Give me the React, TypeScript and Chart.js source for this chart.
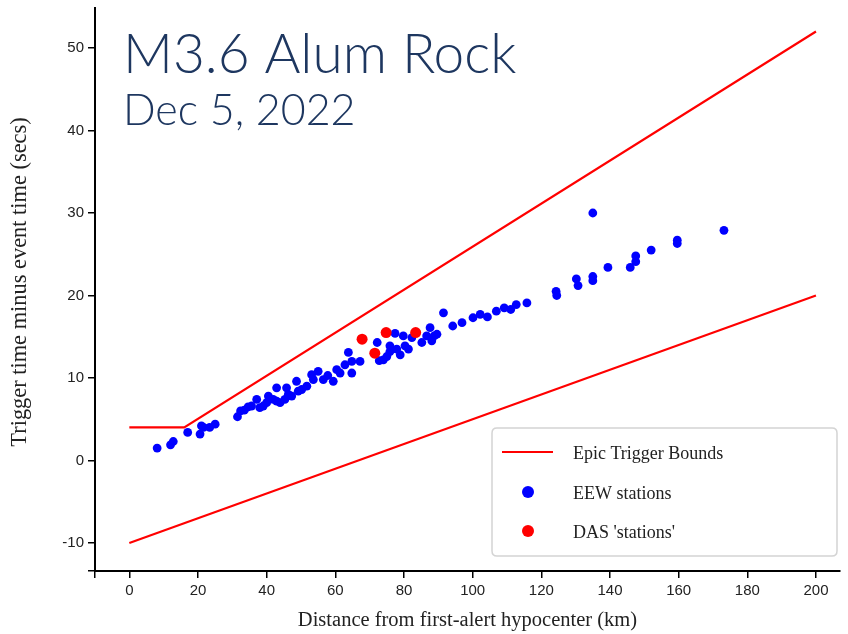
import { useEffect, useRef } from 'react';
import { Chart, registerables } from 'chart.js';

Chart.register(...registerables);

// Epic trigger bound lines (distance km, seconds)
const upperBoundDist = [0, 16, 200];
const upperBoundTime = [4, 4, 52];
const lowerBoundDist = [0, 200];
const lowerBoundTime = [-10, 20];

// EEW station triggers
const eewDist = [
  8.1, 12.0, 12.8, 17.0, 20.6, 21.0, 21.6, 23.4, 25.0,
  31.5, 32.4, 33.5, 34.6, 35.6, 37.1, 38.0, 39.0, 40.0, 40.5, 41.9, 42.9, 42.9, 43.9, 45.3, 45.8, 46.3, 47.3,
  48.7, 49.2, 50.2, 51.7, 53.1, 53.6, 55.0, 56.5, 57.8, 59.4, 60.4, 61.4, 62.8, 63.8, 64.8, 64.8, 67.2,
  72.2, 72.8, 74.0, 75.0, 75.9, 75.9, 77.4, 77.9, 78.9, 79.8, 80.3, 81.3, 82.3, 85.2, 86.6, 87.6, 88.8, 89.6, 88.1,
  91.5, 94.2, 96.9, 100.1, 102.2, 104.3, 106.9, 109.2, 111.1, 112.7, 115.8, 124.3, 124.5,
  130.2, 130.7, 135.0, 135.0, 135.0, 139.4, 145.9, 147.5, 147.5, 152.0, 159.6, 159.6, 173.2,
];
const eewTime = [
  1.5, 1.9, 2.3, 3.4, 3.2, 4.2, 4.0, 4.0, 4.4,
  5.3, 6.0, 6.1, 6.5, 6.6, 7.4, 6.4, 6.6, 7.0, 7.8, 7.4, 8.8, 7.2, 7.0, 7.4, 8.8, 8.0, 7.8,
  9.6, 8.4, 8.6, 9.0, 10.4, 9.8, 10.8, 9.8, 10.3, 9.6, 11.0, 10.6, 11.6, 13.1, 12.0, 10.6, 12.0,
  14.3, 12.1, 12.2, 12.6, 13.9, 13.2, 15.4, 13.5, 12.8, 15.1, 13.9, 13.5, 14.9, 14.3, 15.1, 16.1, 15.1, 15.3, 14.5,
  17.9, 16.3, 16.7, 17.3, 17.7, 17.4, 18.1, 18.5, 18.3, 18.9, 19.1, 20.5, 20.0,
  22.0, 21.2, 30.0, 22.3, 21.8, 23.4, 23.4, 24.8, 24.1, 25.5, 26.7, 26.3, 27.9,
];

// DAS "stations" triggers
const dasDist = [67.8, 71.5, 74.8, 83.4];
const dasTime = [14.7, 13.0, 15.5, 15.5];

const xTickValues = [-10, 0, 20, 40, 60, 80, 100, 120, 140, 160, 180, 200];
const yTickValues = [-13.4, -10, 0, 10, 20, 30, 40, 50];

const titleText = 'M3.6 Alum Rock';
const subtitleText = 'Dec 5, 2022';
const xAxisTitle = 'Distance from first-alert hypocenter (km)';
const yAxisTitle = 'Trigger time minus event time (secs)';
const legendLabels = ['Epic Trigger Bounds', 'EEW stations', "DAS 'stations'"];

const RED = '#ff0000';
const BLUE = '#0000ff';
const NAVY = '#1e3760';

const pts = (xs: number[], ys: number[]) => xs.map((x, i) => ({ x, y: ys[i] }));

const overlayPlugin = {
  id: 'overlay',
  afterDraw(chart: any) {
    const ctx = chart.ctx as CanvasRenderingContext2D;
    ctx.save();
    // Heading
    ctx.fillStyle = NAVY;
    ctx.textBaseline = 'alphabetic';
    ctx.textAlign = 'left';
    ctx.font = '300 55px Lato';
    ctx.fillText(titleText, 123, 73);
    ctx.font = '300 43px Lato';
    ctx.fillText(subtitleText, 123, 125);

    // Vertical axis title
    ctx.save();
    ctx.translate(20, 282);
    ctx.rotate(-Math.PI / 2);
    ctx.fillStyle = '#222';
    ctx.font = '22.4px "Liberation Serif"';
    ctx.textAlign = 'center';
    ctx.textBaseline = 'middle';
    ctx.fillText(yAxisTitle, 0, 0);
    ctx.restore();

    // Legend box
    const bx = 492, by = 428, bw = 345, bh = 128, r = 5;
    ctx.beginPath();
    ctx.moveTo(bx + r, by);
    ctx.lineTo(bx + bw - r, by);
    ctx.quadraticCurveTo(bx + bw, by, bx + bw, by + r);
    ctx.lineTo(bx + bw, by + bh - r);
    ctx.quadraticCurveTo(bx + bw, by + bh, bx + bw - r, by + bh);
    ctx.lineTo(bx + r, by + bh);
    ctx.quadraticCurveTo(bx, by + bh, bx, by + bh - r);
    ctx.lineTo(bx, by + r);
    ctx.quadraticCurveTo(bx, by, bx + r, by);
    ctx.closePath();
    ctx.fillStyle = '#ffffff';
    ctx.fill();
    ctx.strokeStyle = '#d4d4d4';
    ctx.lineWidth = 1.5;
    ctx.stroke();

    ctx.strokeStyle = RED;
    ctx.lineWidth = 2;
    ctx.beginPath();
    ctx.moveTo(502, 452);
    ctx.lineTo(553, 452);
    ctx.stroke();

    ctx.fillStyle = BLUE;
    ctx.beginPath();
    ctx.arc(528, 492, 6, 0, Math.PI * 2);
    ctx.fill();
    ctx.fillStyle = RED;
    ctx.beginPath();
    ctx.arc(528, 531, 6, 0, Math.PI * 2);
    ctx.fill();

    ctx.fillStyle = '#222';
    ctx.font = '18px "Liberation Serif"';
    ctx.textBaseline = 'middle';
    ctx.textAlign = 'left';
    ctx.fillText(legendLabels[0], 573, 454);
    ctx.fillText(legendLabels[1], 573, 494);
    ctx.fillText(legendLabels[2], 573, 533);
    ctx.restore();
  },
};

export default function App() {
  const canvasRef = useRef<HTMLCanvasElement>(null);

  useEffect(() => {
    if (!canvasRef.current) return;
    const chart = new Chart(canvasRef.current, {
      type: 'scatter',
      data: {
        datasets: [
          {
            label: legendLabels[2],
            data: pts(dasDist, dasTime),
            backgroundColor: RED,
            borderColor: RED,
            pointRadius: 5.5,
            pointBorderWidth: 0,
          },
          {
            label: legendLabels[1],
            data: pts(eewDist, eewTime),
            backgroundColor: BLUE,
            borderColor: BLUE,
            pointRadius: 4.4,
            pointBorderWidth: 0,
          },
          {
            label: legendLabels[0],
            data: pts(upperBoundDist, upperBoundTime),
            showLine: true,
            borderColor: RED,
            borderWidth: 2.2,
            pointRadius: 0,
            fill: false,
          },
          {
            label: legendLabels[0],
            data: pts(lowerBoundDist, lowerBoundTime),
            showLine: true,
            borderColor: RED,
            borderWidth: 2.2,
            pointRadius: 0,
            fill: false,
          },
        ],
      },
      options: {
        animation: false,
        responsive: false,
        maintainAspectRatio: false,
        layout: { padding: { top: 8, right: 8, left: 0, bottom: 0 } },
        plugins: { legend: { display: false }, tooltip: { enabled: false } },
        scales: {
          x: {
            type: 'linear',
            min: -10,
            max: 207,
            afterBuildTicks: (s: any) => {
              s.ticks = xTickValues.map((value) => ({ value }));
            },
            afterFit: (s: any) => {
              s.height = 63;
              s.paddingLeft = 0;
              s.paddingRight = 0;
            },
            ticks: {
              autoSkip: false,
              maxRotation: 0,
              padding: 4,
              color: '#222',
              font: { family: '"Liberation Sans", Arial', size: 15 },
              callback: (v: any) => (v === -10 ? '' : String(v)),
            },
            grid: { drawOnChartArea: false, drawTicks: true, tickLength: 7, color: '#000', lineWidth: 1.5 },
            border: { display: true, color: '#000', width: 2 },
            title: {
              display: true,
              text: xAxisTitle,
              color: '#222',
              font: { family: '"Liberation Serif"', size: 20.5 },
              padding: { top: 0, bottom: 1 },
            },
          },
          y: {
            type: 'linear',
            min: -13.4,
            max: 54.85,
            afterBuildTicks: (s: any) => {
              s.ticks = yTickValues.map((value) => ({ value }));
            },
            afterFit: (s: any) => {
              s.width = 95;
              s.paddingTop = 0;
              s.paddingBottom = 0;
            },
            ticks: {
              autoSkip: false,
              padding: 4,
              color: '#222',
              font: { family: '"Liberation Sans", Arial', size: 15 },
              callback: (v: any) => (v === -13.4 ? '' : String(v)),
            },
            grid: { drawOnChartArea: false, drawTicks: true, tickLength: 7, color: '#000', lineWidth: 1.5 },
            border: { display: true, color: '#000', width: 2 },
            title: { display: false },
          },
        },
      },
      plugins: [overlayPlugin],
    } as any);
    document.fonts?.load('300 55px Lato').then(() => chart.update()).catch(() => {});
    return () => chart.destroy();
  }, []);

  return (
    <div style={{ position: 'fixed', left: 0, top: 0, width: 848, height: 634, background: '#fff' }}>
      <canvas ref={canvasRef} width={848} height={634} style={{ width: 848, height: 634, display: 'block' }} />
    </div>
  );
}
